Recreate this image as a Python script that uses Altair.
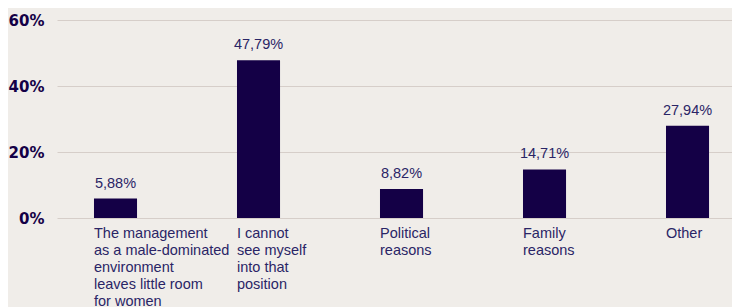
import altair as alt
import pandas as pd

categories = [
    "The management\nas a male-dominated\nenvironment\nleaves little room\nfor women",
    "I cannot\nsee myself\ninto that\nposition",
    "Political\nreasons",
    "Family\nreasons",
    "Other",
]
values = [5.88, 47.79, 8.82, 14.71, 27.94]
value_labels = ["5,88%", "47,79%", "8,82%", "14,71%", "27,94%"]
y_ticks = [0, 20, 40, 60]

df = pd.DataFrame({
    "cat": categories,
    "val": values,
    "lab": value_labels,
})

BAR = "#140046"
TXT = "#2a2566"
BG = "#f0ede9"
GRID = "#d6cec9"

xscale = alt.Scale(domain=categories, paddingInner=0.699, paddingOuter=0.2096, align=0.617)
yscale = alt.Scale(domain=[0, 60], nice=False)

base = alt.Chart(df)

bars = base.mark_bar(color=BAR).encode(
    x=alt.X("cat:N", scale=xscale, sort=categories, axis=None),
    y=alt.Y(
        "val:Q",
        scale=yscale,
        axis=alt.Axis(
            values=y_ticks,
            labelExpr="datum.value + '%'",
            title=None,
            domain=False,
            ticks=False,
            labelPadding=13,
            labelFont="DejaVu Sans",
            labelFontWeight="bold",
            labelFontSize=15,
            labelColor=BAR,
            gridColor=GRID,
            gridWidth=1,
        ),
    ),
)

vals = base.mark_text(
    font="Liberation Sans", fontSize=14.5, color=TXT, baseline="alphabetic", dy=-11
).encode(
    x=alt.X("cat:N", scale=xscale, sort=categories),
    y=alt.Y("val:Q", scale=yscale),
    text="lab:N",
)

cats = base.mark_text(
    font="Liberation Sans",
    fontSize=14.5,
    color=TXT,
    align="left",
    baseline="top",
    lineBreak="\n",
    lineHeight=17,
    dy=9,
).encode(
    x=alt.X("cat:N", scale=xscale, sort=categories, bandPosition=0),
    y=alt.value(198),
    text="cat:N",
)

chart = (
    alt.layer(bars, vals, cats)
    .properties(
        width=675,
        height=198,
        background=BG,
        padding={"left": 49, "top": 12, "right": 0, "bottom": 90},
        autosize=alt.AutoSizeParams(type="none"),
    )
    .configure_view(stroke=None)
)

chart.save("out.html", embed_options={"renderer": "svg", "actions": False})
